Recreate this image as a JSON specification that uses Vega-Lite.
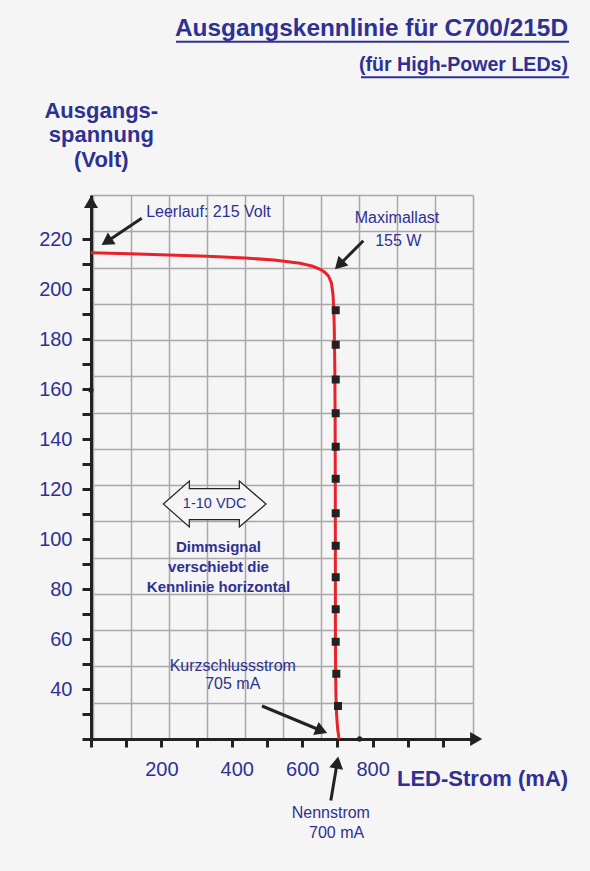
{
  "$schema": "https://vega.github.io/schema/vega-lite/v6.json",
  "width": 382,
  "height": 544,
  "autosize": {"type": "none"},
  "padding": {"left": 91, "top": 195, "right": 117, "bottom": 132},
  "background": "#f5f5f5",
  "config": {"view": {"stroke": null}, "font": "Liberation Sans"},
  "title": {
    "text": "Ausgangskennlinie für C700/215D",
    "subtitle": "(für High-Power LEDs)",
    "anchor": "end",
    "frame": "group",
    "dx": 95,
    "offset": -35,
    "font": "Liberation Sans",
    "fontSize": 24.4,
    "fontWeight": "bold",
    "color": "#2e3192",
    "subtitleFont": "Liberation Sans",
    "subtitleFontSize": 19.6,
    "subtitleFontWeight": "bold",
    "subtitleColor": "#2e3192",
    "subtitlePadding": 15
  },
  "datasets": {
    "gridbox": [{"gx": 0, "gy": 0}],
    "curve": [
      {"mA": 0, "V": 214.5}, {"mA": 110, "V": 214.1}, {"mA": 220, "V": 213.6}, {"mA": 330, "V": 213.1},
      {"mA": 437, "V": 212.4}, {"mA": 520, "V": 211.6}, {"mA": 594, "V": 210.3}, {"mA": 630, "V": 209.1},
      {"mA": 651, "V": 207.9}, {"mA": 665, "V": 206.6}, {"mA": 675, "V": 205.1}, {"mA": 683, "V": 202.4},
      {"mA": 687.5, "V": 197.8}, {"mA": 689.5, "V": 192.5}, {"mA": 691, "V": 185}, {"mA": 692.5, "V": 170},
      {"mA": 693.5, "V": 150}, {"mA": 694, "V": 120}, {"mA": 694.2, "V": 90}, {"mA": 694.4, "V": 60},
      {"mA": 695, "V": 45}, {"mA": 696, "V": 36}, {"mA": 698, "V": 29}, {"mA": 701, "V": 23.6},
      {"mA": 704, "V": 20.9}, {"mA": 705.4, "V": 20}
    ],
    "squares": [
      {"mA": 695.2, "V": 191.5}, {"mA": 695.2, "V": 177.7}, {"mA": 695.2, "V": 163.8}, {"mA": 695.2, "V": 150.3},
      {"mA": 695.2, "V": 136.9}, {"mA": 695.2, "V": 124.1}, {"mA": 695.2, "V": 110.3}, {"mA": 695.2, "V": 97.3},
      {"mA": 695.2, "V": 84.7}, {"mA": 695.2, "V": 71.9}, {"mA": 695.2, "V": 58.9}, {"mA": 696.9, "V": 46.1},
      {"mA": 701.7, "V": 33.2}
    ],
    "dots": [{"mA": 0, "V": 159.6}, {"mA": 763, "V": 20}],
    "arrows": [
      {"mA": 144.0, "V": 228.3, "mA2": 44.6, "V2": 218.9},
      {"mA": 773.6, "V": 219.3, "mA2": 705.1, "V2": 209.6},
      {"mA": 485.8, "V": 33.2, "mA2": 654.8, "V2": 23.3},
      {"mA": 681.3, "V": -4.6, "mA2": 699.4, "V2": 10.6}
    ],
    "heads": [
      {"mA": 0, "V": 234.8, "angle": 0},
      {"mA": 1094.3, "V": 20, "angle": 90},
      {"mA": 44.6, "V": 218.9, "angle": 236.3},
      {"mA": 705.1, "V": 209.6, "angle": 224.7},
      {"mA": 654.8, "V": 23.3, "angle": 112.6},
      {"mA": 699.4, "V": 10.6, "angle": 9.6}
    ],
    "notes": [
      {"mA": 333.5, "V": 228.7, "text": "Leerlauf: 215 Volt"},
      {"mA": 869.3, "V": 226.5, "text": "Maximallast"},
      {"mA": 873, "V": 217.2, "text": "155 W"},
      {"mA": 402.8, "V": 47.1, "text": "Kurzschlussstrom"},
      {"mA": 402.6, "V": 40, "text": "705 mA"},
      {"mA": 681.3, "V": -11.7, "text": "Nennstrom"},
      {"mA": 697.7, "V": -19.4, "text": "700 mA"}
    ],
    "dimm": [
      {"mA": 362.2, "V": 94.9, "text": "Dimmsignal"},
      {"mA": 362.2, "V": 86.9, "text": "verschiebt die"},
      {"mA": 362.2, "V": 78.9, "text": "Kennlinie horizontal"}
    ],
    "vdc": [{"mA": 351.4, "V": 114, "text": "1-10 VDC"}],
    "underlines": [
      {"mA": 241.5, "mA2": 1358, "V": 298.9},
      {"mA": 767, "mA2": 1358, "V": 284.7}
    ]
  },
  "resolve": {"scale": {"x": "independent", "y": "independent"}},
  "layer": [
    {
      "data": {"name": "gridbox"},
      "mark": {"type": "point", "opacity": 0},
      "encoding": {
        "x": {
          "field": "gx", "type": "quantitative",
          "scale": {"domain": [-0.0447, 10.008], "nice": false, "zero": false},
          "axis": {"orient": "top", "values": [0,1,2,3,4,5,6,7,8,9,10], "grid": true, "gridColor": "#a8a8a8", "gridWidth": 1.5, "labels": false, "ticks": false, "domain": false, "title": null}
        },
        "y": {
          "field": "gy", "type": "quantitative",
          "scale": {"domain": [0, 15], "nice": false, "zero": false},
          "axis": {"orient": "right", "values": [0,1,2,3,4,5,6,7,8,9,10,11,12,13,14,15], "grid": true, "gridColor": "#a8a8a8", "gridWidth": 1.5, "labels": false, "ticks": false, "domain": false, "title": null}
        }
      }
    },
    {
      "encoding": {
        "x": {
          "field": "mA", "type": "quantitative",
          "scale": {"domain": [0, 1085.2], "nice": false, "zero": false},
          "axis": {
            "orient": "bottom", "grid": false,
            "values": [0,100,200,300,400,500,600,700,800,900,1000],
            "labelExpr": "indexof([200,400,600,800], datum.value) >= 0 ? datum.label : ''",
            "domainColor": "#222222", "domainWidth": 3, "domainCap": "butt",
            "tickColor": "#222222", "tickWidth": 3, "tickSize": 8,
            "labelFont": "Liberation Sans", "labelFontSize": 20, "labelColor": "#2e3192",
            "labelPadding": 12, "labelFlush": false, "labelOverlap": false, "labelBaseline": "top",
            "labelOffset": {"condition": {"test": "datum.value === 400", "value": 5}, "value": 0},
            "title": "LED-Strom (mA)", "titleFont": "Liberation Sans", "titleFontSize": 22, "titleFontWeight": "bold",
            "titleColor": "#2e3192", "titleX": 476.6, "titleY": 46.3, "titleAlign": "right", "titleBaseline": "alphabetic", "titleAnchor": null
          }
        },
        "y": {
          "field": "V", "type": "quantitative",
          "scale": {"domain": [20, 237.6], "nice": false, "zero": false},
          "axis": {
            "orient": "left", "grid": false,
            "values": [20,30,40,50,60,70,80,90,100,110,120,130,140,150,160,170,180,190,200,210,220],
            "labelExpr": "datum.value >= 40 && datum.value % 20 === 0 ? datum.label : ''",
            "domainColor": "#222222", "domainWidth": 3, "domainCap": "butt",
            "tickColor": "#222222", "tickWidth": 3, "tickSize": 9,
            "labelFont": "Liberation Sans", "labelFontSize": 20, "labelColor": "#2e3192",
            "labelPadding": 10, "labelFlush": false, "labelOverlap": false,
            "title": ["Ausgangs-", "spannung", "(Volt)"], "titleFont": "Liberation Sans", "titleFontSize": 22, "titleFontWeight": "bold",
            "titleColor": "#2e3192", "titleAngle": 0, "titleX": 9.8, "titleY": -95, "titleAlign": "center", "titleBaseline": "top", "titleLineHeight": 24.5, "titleAnchor": null
          }
        }
      },
      "layer": [
        {
          "data": {"name": "curve"},
          "mark": {"type": "line", "color": "#e8212b", "strokeWidth": 3, "interpolate": "linear"},
          "encoding": {"order": {"field": "V", "sort": "descending"}}
        },
        {
          "data": {"name": "squares"},
          "mark": {"type": "point", "shape": "square", "filled": true, "size": 64, "color": "#222222", "opacity": 1}
        },
        {
          "data": {"name": "dots"},
          "mark": {"type": "point", "shape": "circle", "filled": true, "size": 28, "color": "#222222", "opacity": 1}
        },
        {
          "data": {"name": "arrows"},
          "mark": {"type": "rule", "color": "#222222", "strokeWidth": 3},
          "encoding": {"x2": {"field": "mA2"}, "y2": {"field": "V2"}}
        },
        {
          "data": {"name": "heads"},
          "mark": {"type": "point", "shape": "triangle-up", "filled": true, "size": 196, "color": "#222222", "opacity": 1},
          "encoding": {"angle": {"field": "angle", "type": "quantitative", "scale": null}}
        },
        {
          "data": {"name": "underlines"},
          "mark": {"type": "rule", "color": "#2e3192", "strokeWidth": 1.8},
          "encoding": {"x2": {"field": "mA2"}}
        },
        {
          "data": {"name": "vdc"},
          "mark": {"type": "point", "shape": "M-1,0L-0.494,-0.448L-0.494,-0.3L0.48,-0.3L0.48,-0.448L1,0L0.48,0.448L0.48,0.304L-0.494,0.304L-0.494,0.448Z", "size": 10547, "filled": true, "fill": "#f5f5f5", "stroke": "#222222", "strokeWidth": 1.2, "opacity": 1}
        },
        {
          "data": {"name": "vdc"},
          "mark": {"type": "text", "font": "Liberation Sans", "fontSize": 14.5, "color": "#2e3192", "align": "center", "baseline": "middle"},
          "encoding": {"text": {"field": "text"}}
        },
        {
          "data": {"name": "dimm"},
          "mark": {"type": "text", "font": "Liberation Sans", "fontSize": 15, "fontWeight": "bold", "color": "#2e3192", "align": "center", "baseline": "alphabetic"},
          "encoding": {"text": {"field": "text"}}
        },
        {
          "data": {"name": "notes"},
          "mark": {"type": "text", "font": "Liberation Sans", "fontSize": 16, "color": "#2e3192", "align": "center", "baseline": "alphabetic"},
          "encoding": {"text": {"field": "text"}}
        }
      ]
    }
  ]
}
